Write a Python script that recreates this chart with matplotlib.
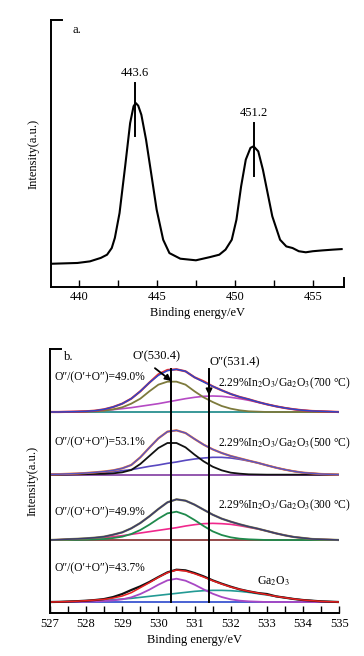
import numpy as np
import matplotlib
matplotlib.use('Agg')
import matplotlib.pyplot as plt
from matplotlib.ticker import MultipleLocator

plt.rcParams['font.family'] = ['Liberation Serif', 'DejaVu Sans']
plt.rcParams['mathtext.fontset'] = 'stix'
plt.rcParams['font.size'] = 9

# ---- panel a: In 3d spectrum ----
a_energy = [438.2, 439.9, 440.7, 441.4, 441.8, 442.1, 442.3, 442.6, 442.96, 443.28,
            443.5, 443.64, 443.8, 444.0, 444.3, 444.66, 444.98, 445.4, 445.8, 446.5,
            447.5, 448.4, 449.0, 449.4, 449.8, 450.1, 450.4, 450.7, 451.0, 451.2,
            451.5, 451.8, 452.1, 452.4, 452.9, 453.3, 453.7, 454.1, 454.55, 455.0,
            455.6, 456.3, 456.85]
a_intensity = [8.7, 9.0, 9.6, 10.9, 12.1, 14.6, 18.4, 27.7, 45.2, 61.4,
               67.7, 68.9, 67.9, 64.5, 55.2, 41.4, 29.0, 17.7, 12.7, 10.6,
               10.0, 11.2, 12.1, 14.0, 17.7, 25.2, 37.7, 47.7, 52.1, 52.7,
               50.8, 43.9, 35.2, 26.5, 17.7, 15.2, 14.6, 13.4, 13.0, 13.4,
               13.7, 14.0, 14.2]
a_peaks = [443.6, 451.2]
a_peak_lo = [56.7, 41.7]
a_peak_hi = [76.4, 61.4]
a_peak_labels = ['443.6', '451.2']

# ---- panel b: O 1s spectra, grid 527..535 step 0.25 ----
b_energy = np.arange(527, 535.01, 0.25)

# 700 C
raw_700 = [0, 0, 0.5, 1, 2, 4, 8, 15, 25, 40, 62, 88, 113, 126, 128, 122, 104, 92, 77, 65,
           54, 45, 38, 30, 23, 17, 12, 8, 5, 3, 2, 1, 0]
fit_700 = [0, 0, 0.5, 1, 2, 4, 8, 15, 25, 40, 62, 88, 110, 124, 128, 122, 104, 90, 77, 65,
           54, 45, 38, 30, 23, 17, 12, 8, 5, 3, 2, 1, 0]
o1_700 = [0, 0, 0, 0.5, 1, 2, 4, 8, 14, 25, 40, 62, 82, 91, 91, 82, 62, 44, 30, 18,
          10, 5, 2, 1, 0, 0, 0, 0, 0, 0, 0, 0, 0]
o2_700 = [0, 0.5, 1, 1.5, 2, 3, 5, 7, 10, 13, 17, 21, 25, 30, 35, 40, 44, 47, 48, 47,
          44, 40, 35, 29, 23, 17, 12, 8, 5, 3, 2, 1, 0]

# 500 C
raw_500 = [1, 1.5, 2.5, 3.5, 5, 7, 9.5, 13, 19, 29, 52, 81, 109, 129, 133, 125, 107, 90, 76, 65,
           56, 49, 42, 35.5, 28, 21, 15, 10, 6, 4, 2, 1, 0]
fit_500 = raw_500
o1_500 = [0, 0, 0.5, 1, 1.5, 2, 2.5, 4, 7, 14, 32, 56, 80, 95, 95, 82, 60, 40, 24, 13,
          6, 3, 1, 0.5, 0, 0, 0, 0, 0, 0, 0, 0, 0]
o2_500 = [0.5, 1, 2, 2.5, 3.5, 5, 7, 9, 12, 15, 20, 25, 29, 34, 38, 43, 47, 50, 52, 52,
          50, 46, 41, 35, 28, 21, 15, 10, 6, 4, 2, 1, 0]

# 300 C
raw_300 = [0, 1, 2.5, 3.5, 5, 7, 10, 16, 23, 35, 51, 71, 93, 113, 122, 118, 106, 91, 76, 64,
           55, 47, 40, 34, 27, 20, 14, 9, 6, 3, 2, 1, 0]
fit_300 = raw_300
o1_300 = [0, 0, 0.5, 0.5, 1, 2, 3, 6, 10, 18, 30, 46, 64, 80, 85, 76, 60, 42, 26, 15,
          8, 4, 2, 1, 0, 0, 0, 0, 0, 0, 0, 0, 0]
o2_300 = [0, 1, 2, 3, 4, 5, 7, 10, 13, 17, 21, 25, 29, 33, 37, 42, 46, 49, 50, 49,
          47, 43, 38, 33, 27, 20, 14, 9, 6, 3, 2, 1, 0]

# Ga2O3
raw_ga = [0, 0.5, 1.5, 2.5, 4, 6, 9, 15, 24, 36, 47, 60, 75, 89, 97, 95, 87, 77, 65, 55,
          46, 38, 32, 27, 24, 17, 13, 9, 6, 4, 2, 1, 0]
fit_ga = [0, 0.5, 1.5, 2.5, 4, 6, 8, 12, 18, 28, 43, 58, 74, 88, 96, 93, 85, 75, 64, 54,
          45, 38, 32, 27, 22, 17, 13, 9, 6, 4, 2, 1, 0]
o1_ga = [0, 0, 0.5, 0.5, 1, 2, 3, 5, 8, 14, 24, 37, 52, 65, 70, 64, 52, 38, 25, 15,
         8, 4, 2, 1, 0, 0, 0, 0, 0, 0, 0, 0, 0]
o2_ga = [0, 0.5, 1, 2, 3, 4, 5, 7, 9, 11, 14, 17, 20, 23, 26, 29, 32, 34, 35, 35,
         34, 32, 29, 25, 21, 17, 13, 9, 6, 4, 2, 1, 0]

ratios = ['49.0%', '53.1%', '49.9%', '43.7%']
samples = ['2.29%In$_2$O$_3$/Ga$_2$O$_3$(700 \u00b0C)',
           '2.29%In$_2$O$_3$/Ga$_2$O$_3$(500 \u00b0C)',
           '2.29%In$_2$O$_3$/Ga$_2$O$_3$(300 \u00b0C)',
           'Ga$_2$O$_3$']

fig = plt.figure(figsize=(3.64, 6.56), dpi=100)

# ---------------- panel a ----------------
ax1 = fig.add_axes([0.140, 0.5625, 0.805, 0.407])
ax1.plot(a_energy, a_intensity, color='black', lw=1.5)
for p, lo, hi, lab in zip(a_peaks, a_peak_lo, a_peak_hi, a_peak_labels):
    ax1.plot([p, p], [lo, hi], color='black', lw=1.4)
    ax1.text(p, hi + 1.5, lab, ha='center', va='bottom', fontsize=9)
ax1.set_xlim(438.2, 457.0)
ax1.set_ylim(0, 100)
ax1.xaxis.set_major_locator(MultipleLocator(5))
ax1.xaxis.set_minor_locator(MultipleLocator(2.5))
ax1.tick_params(axis='x', which='both', direction='in', length=5, width=1, pad=3, labelsize=9)
ax1.set_yticks([])
ax1.spines['top'].set_bounds(438.2, 438.9)
ax1.spines['right'].set_bounds(0, 3.5)
for s in ax1.spines.values():
    s.set_linewidth(1.4)
ax1.set_xlabel('Binding energy/eV', fontsize=9, labelpad=3)
ax1.set_ylabel('Intensity(a.u.)', fontsize=9, labelpad=8)
ax1.text(0.072, 0.985, 'a.', transform=ax1.transAxes, ha='left', va='top', fontsize=9)

# ---------------- panel b ----------------
ax2 = fig.add_axes([0.137, 0.065, 0.795, 0.4025])
offsets = [604, 416, 220, 34]
stacks = [
    (raw_700, fit_700, o1_700, o2_700, '#e8302a', '#2f45c8', '#7d7a3c', '#b54ac4', '#2a9090'),
    (raw_500, fit_500, o1_500, o2_500, '#ff7a2a', '#5a55c0', '#111111', '#5848c0', '#8a4aa8'),
    (raw_300, fit_300, o1_300, o2_300, '#8a8a4a', '#3c3c6e', '#1f8a4c', '#f0288c', '#8b3a3a'),
    (raw_ga, fit_ga, o1_ga, o2_ga, '#111111', '#e82020', '#a848c4', '#239a94', '#3a55d0'),
]
for (raw, fit, o1, o2, c_raw, c_fit, c_o1, c_o2, c_base), off in zip(stacks, offsets):
    ax2.axhline(off, color=c_base, lw=1.3)
    ax2.plot(b_energy, np.array(o2) + off, color=c_o2, lw=1.2)
    ax2.plot(b_energy, np.array(o1) + off, color=c_o1, lw=1.3)
    ax2.plot(b_energy, np.array(raw) + off, color=c_raw, lw=1.6)
    ax2.plot(b_energy, np.array(fit) + off, color=c_fit, lw=1.1)

ax2.plot([530.36, 530.36], [offsets[3], 732], color='black', lw=1.4)
ax2.plot([531.40, 531.40], [offsets[3], 732], color='black', lw=1.4)

ax2.annotate('O\u2032(530.4)', xy=(530.36, 697), xytext=(529.95, 772),
             ha='center', va='center', fontsize=9,
             arrowprops=dict(arrowstyle='-|>', color='black', lw=1.3, shrinkA=4, shrinkB=0,
                             mutation_scale=9, relpos=(0.3, 0.0)))
ax2.annotate('O\u2033(531.4)', xy=(531.40, 654), xytext=(532.1, 752),
             ha='center', va='center', fontsize=9,
             arrowprops=dict(arrowstyle='-|>', color='black', lw=1.3, shrinkA=0, shrinkB=0,
                             mutation_scale=9, relpos=(0.0, 0.0)))

ratio_y = [708, 512, 302, 135]
for r, y in zip(ratios, ratio_y):
    ax2.text(527.12, y, 'O\u2033/(O\u2032+O\u2033)=' + r, ha='left', va='center', fontsize=8.3)
sample_y = [690, 510, 325]
for s, y in zip(samples[:3], sample_y):
    ax2.text(531.65, y, s, ha='left', va='center', fontsize=8.3)
ax2.text(533.17, 95, samples[3], ha='center', va='center', fontsize=8.5)

ax2.set_xlim(527, 535)
ax2.set_ylim(0, 792)
ax2.xaxis.set_major_locator(MultipleLocator(1))
ax2.xaxis.set_minor_locator(MultipleLocator(0.5))
ax2.tick_params(axis='x', which='both', direction='in', length=5, width=1, pad=3, labelsize=9)
ax2.set_yticks([])
ax2.spines['top'].set_bounds(527, 527.3)
ax2.spines['right'].set_visible(False)
for s in ax2.spines.values():
    s.set_linewidth(1.4)
ax2.set_xlabel('Binding energy/eV', fontsize=9, labelpad=3)
ax2.set_ylabel('Intensity(a.u.)', fontsize=9, labelpad=8)
ax2.text(0.05, 0.995, 'b.', transform=ax2.transAxes, ha='left', va='top', fontsize=9)

fig.savefig('out.png', dpi=100)
